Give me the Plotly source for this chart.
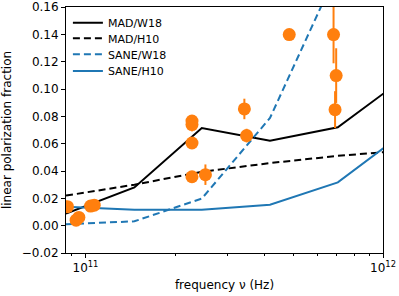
import math
import plotly.graph_objects as go

# Model curves (frequency in Hz)
model_freq = [8.6e10, 1.46e11, 2.46e11, 4.17e11, 7.05e11, 1.19e12]
mad_w18 = [0.0088, 0.028, 0.0715, 0.0622, 0.072, 0.1086]
mad_h10 = [0.022, 0.030, 0.0394, 0.0458, 0.0511, 0.0550]
sane_w18 = [0.001, 0.0032, 0.0198, 0.0788, 0.187, 0.30]
sane_h10 = [0.0138, 0.0117, 0.0117, 0.0153, 0.0317, 0.0687]

# Observations
obs_freq = [8.7e10, 9.3e10, 9.5e10, 1.04e11, 1.07e11, 2.28e11, 2.28e11, 2.28e11,
            2.28e11, 2.53e11, 3.42e11, 3.48e11, 4.84e11, 6.82e11, 6.96e11, 6.9e11]
obs_frac = [0.0139, 0.004, 0.006, 0.0143, 0.015, 0.0765, 0.074, 0.0605,
            0.0358, 0.0373, 0.0854, 0.0659, 0.1398, 0.1398, 0.1098, 0.0849]
obs_err = [0.001, 0.001, 0.001, 0.001, 0.001, 0.001, 0.005, 0.001,
           0.001, 0.0075, 0.0075, 0.005, 0.001, 0.021, 0.02, 0.0135]

y_ticks = [-0.02, 0.0, 0.02, 0.04, 0.06, 0.08, 0.10, 0.12, 0.14, 0.16]
x_ticks = [1e11, 1e12]
x_ticktext = ["10<sup>11</sup>", "10<sup>12</sup>"]
x_minor = [9e10, 2e11, 3e11, 4e11, 5e11, 6e11, 7e11, 8e11, 9e11]

BLACK = "#000000"
BLUE = "#1f77b4"
ORANGE = "#ff7f0e"
FONT = "DejaVu Sans"
DASH = "7px,4px"

fig = go.Figure()
fig.add_trace(go.Scatter(x=model_freq, y=mad_w18, mode="lines", name="MAD/W18",
                         legend="legend", line=dict(color=BLACK, width=2)))
fig.add_trace(go.Scatter(x=model_freq, y=mad_h10, mode="lines", name="MAD/H10",
                         legend="legend2", line=dict(color=BLACK, width=2, dash=DASH)))
fig.add_trace(go.Scatter(x=model_freq, y=sane_w18, mode="lines", name="SANE/W18",
                         legend="legend3", line=dict(color=BLUE, width=2, dash=DASH)))
fig.add_trace(go.Scatter(x=model_freq, y=sane_h10, mode="lines", name="SANE/H10",
                         legend="legend4", line=dict(color=BLUE, width=2)))
fig.add_trace(go.Scatter(x=obs_freq, y=obs_frac, mode="markers", showlegend=False,
                         marker=dict(color=ORANGE, size=13, line=dict(width=0)),
                         error_y=dict(type="data", array=obs_err, color=ORANGE,
                                      thickness=2, width=0)))


def leg(yc):
    return dict(x=0.006, y=yc, xanchor="left", yanchor="middle",
                bgcolor="rgba(255,255,255,0)", font=dict(size=11, family=FONT))


fig.update_layout(
    width=399, height=296,
    margin=dict(l=66, r=16, t=7, b=43, autoexpand=False),
    paper_bgcolor="white", plot_bgcolor="white",
    font=dict(family=FONT, size=12, color="black"),
    legend=leg(0.936), legend2=leg(0.873), legend3=leg(0.808), legend4=leg(0.740),
    xaxis=dict(
        type="log", range=[math.log10(8.6e10), 12], automargin=True,
        tickvals=x_ticks, ticktext=x_ticktext,
        ticks="outside", ticklen=4, tickwidth=1, tickcolor="black",
        minor=dict(tickvals=x_minor, ticks="outside", ticklen=2, tickcolor="black"),
        showgrid=False, zeroline=False,
        showline=True, linecolor="black", linewidth=1, mirror=True,
        title=dict(text="frequency ν (Hz)", font=dict(size=12), standoff=6),
    ),
    yaxis=dict(
        range=[-0.02, 0.16], tickvals=y_ticks, tickformat=".2f", automargin=False,
        ticks="outside", ticklen=4, tickwidth=1, tickcolor="black",
        showgrid=False, zeroline=False,
        showline=True, linecolor="black", linewidth=1, mirror=True,
        title=dict(text="linear polarization fraction", font=dict(size=12)),
    ),
)

fig.write_html("out.html", config={"displayModeBar": False},
               post_script="document.body.style.margin='0px';")
